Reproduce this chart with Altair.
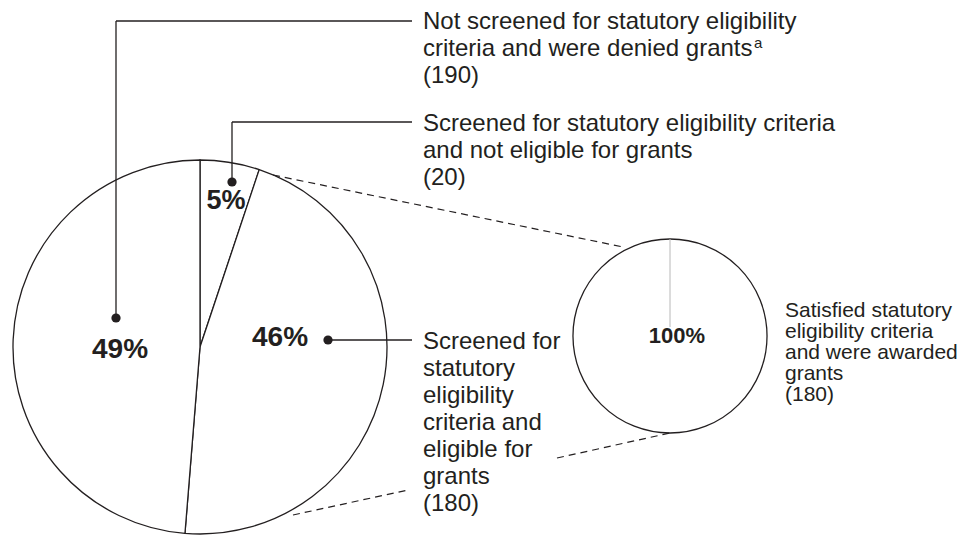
import altair as alt
import pandas as pd

# ---------------- data ----------------
main_labels = ["Screened, not eligible", "Screened, eligible", "Not screened, denied"]
main_counts = [20, 180, 190]
main_pct = ["5%", "46%", "49%"]

sub_labels = ["Satisfied criteria, awarded"]
sub_counts = [180]
sub_pct = ["100%"]

block_not_screened = ["Not screened for statutory eligibility",
                      "criteria and were denied grants", "(190)"]
block_not_eligible = ["Screened for statutory eligibility criteria",
                      "and not eligible for grants", "(20)"]
block_eligible = ["Screened for", "statutory", "eligibility", "criteria and",
                  "eligible for", "grants", "(180)"]
block_awarded = ["Satisfied statutory", "eligibility criteria",
                 "and were awarded", "grants", "(180)"]
footnote_mark = "a"

# ---------------- layout (image pixel coordinates) ----------------
W, H = 961, 529
xs = alt.Scale(domain=[8, 8 + W], range=[0, W])
ys = alt.Scale(domain=[8, 8 + H], range=[0, H])
INK = "#231f20"
FONT = "Liberation Sans"

big_c = (200, 347)
big_r = 187
small_c = (670, 336)
small_r = 97

X = lambda f: alt.X(f"{f}:Q", scale=xs, axis=None)
Y = lambda f: alt.Y(f"{f}:Q", scale=ys, axis=None)

# pies
big_df = pd.DataFrame({"label": main_labels, "count": main_counts,
                       "k": list(range(len(main_labels)))})
big_df["cx"], big_df["cy"] = big_c
small_df = pd.DataFrame({"label": sub_labels, "count": sub_counts, "k": [0]})
small_df["cx"], small_df["cy"] = small_c

big_pie = alt.Chart(big_df).mark_arc(radius=big_r, fill="white", stroke=INK,
                                     strokeWidth=1.3).encode(
    x=X("cx"), y=Y("cy"),
    theta=alt.Theta("count:Q", stack=True),
    order=alt.Order("k:Q"),
)
small_pie = alt.Chart(small_df).mark_arc(radius=small_r, fill="white", stroke=INK,
                                         strokeWidth=1.3).encode(
    x=X("cx"), y=Y("cy"),
    theta=alt.Theta("count:Q", stack=True),
    order=alt.Order("k:Q"),
)
pies = alt.layer(big_pie, small_pie).resolve_scale(theta="independent")

# thin gray radius in the small pie (stops just above the label)
gray_df = pd.DataFrame({"x": [small_c[0]], "y": [small_c[1] - 9],
                        "x2": [small_c[0]], "y2": [small_c[1] - small_r]})
gray_rule = alt.Chart(gray_df).mark_rule(color="#b8b8b8", strokeWidth=1).encode(
    x=X("x"), y=Y("y"), x2="x2:Q", y2="y2:Q")

# dashed connector lines
dash_df = pd.DataFrame({
    "x": [273, 293, 557], "y": [175, 515, 458],
    "x2": [623, 408, 670], "y2": [247, 490, 433]})
dash_rule = alt.Chart(dash_df).mark_rule(color=INK, strokeWidth=1.2,
                                         strokeDash=[7, 5]).encode(
    x=X("x"), y=Y("y"), x2="x2:Q", y2="y2:Q")

# leader lines
lead_df = pd.DataFrame({
    "x": [116, 116, 232, 232, 328],
    "y": [318, 21, 182, 122, 340],
    "x2": [116, 412, 232, 412, 412],
    "y2": [21, 21, 122, 122, 340]})
lead_rule = alt.Chart(lead_df).mark_rule(color=INK, strokeWidth=1.3).encode(
    x=X("x"), y=Y("y"), x2="x2:Q", y2="y2:Q")

dot_df = pd.DataFrame({"x": [116, 232, 328], "y": [318, 182, 340]})
dots = alt.Chart(dot_df).mark_circle(size=85, color=INK, opacity=1).encode(
    x=X("x"), y=Y("y"))

# percentage labels
pct_df = pd.DataFrame({"t": main_pct + sub_pct,
                       "x": [226, 280, 120, 677],
                       "y": [201, 338, 350, 336],
                       "s": [27, 28, 28, 22]})
pct_text = alt.Chart(pct_df).mark_text(font=FONT, fontWeight="bold", color=INK,
                                       align="center", baseline="middle").encode(
    x=X("x"), y=Y("y"), text="t:N", size=alt.Size("s:Q", scale=None, legend=None))

# descriptive labels, one row per line
rows = []
for lines, x0, y0, step, fs in [
        (block_not_screened, 423, 29, 27, 24),
        (block_not_eligible, 423, 131, 27, 24),
        (block_eligible, 423, 349, 27, 24),
        (block_awarded, 785, 317, 21, 21)]:
    for i, t in enumerate(lines):
        rows.append({"t": t, "x": x0, "y": y0 + i * step, "s": fs})
rows.append({"t": footnote_mark, "x": 754, "y": 48, "s": 15})
lab_df = pd.DataFrame(rows)
lab_text = alt.Chart(lab_df).mark_text(font=FONT, color=INK, align="left",
                                       baseline="alphabetic").encode(
    x=X("x"), y=Y("y"), text="t:N", size=alt.Size("s:Q", scale=None, legend=None))

chart = alt.layer(pies, gray_rule, dash_rule, lead_rule, dots,
                  pct_text, lab_text).properties(
    width=W, height=H, padding=0,
    autosize=alt.AutoSizeParams(type="none"),
    background="white",
).configure_view(stroke=None)

chart.save("out.html", embed_options={"renderer": "svg", "actions": False})
